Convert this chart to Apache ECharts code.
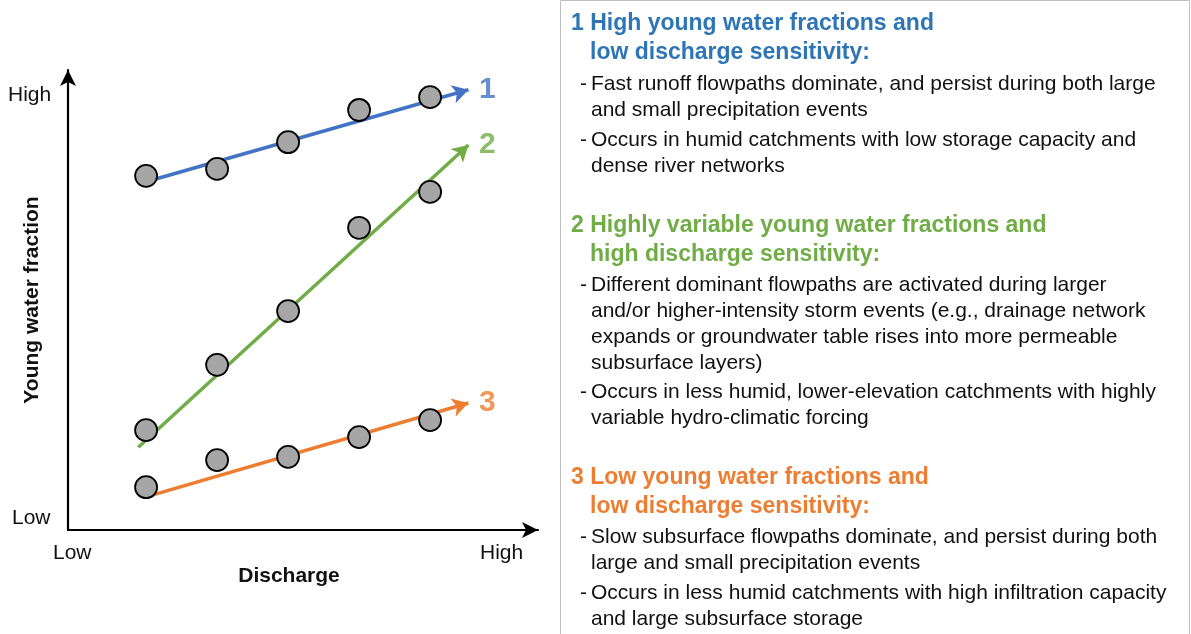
<!DOCTYPE html>
<html><head><meta charset="utf-8">
<script src="https://cdn.jsdelivr.net/npm/echarts@6/dist/echarts.min.js"></script>
<style>html,body{margin:0;background:#fff}#c{width:1191px;height:634px}</style>
</head><body><div id="c"></div>
<script>
const xs = [1, 2, 3, 4, 5];
const blue = [7.70, 7.85, 8.43, 9.13, 9.41];
const green = [2.17, 3.59, 4.76, 6.57, 7.35];
const orange = [0.93, 1.52, 1.59, 2.02, 2.39];
const trendLines = [
  { name: "1", color: "#4472c4", from: [1, 7.57], to: [5.54, 9.57] },
  { name: "2", color: "#70ad47", from: [0.89, 1.80], to: [5.54, 8.37] },
  { name: "3", color: "#ed7d31", from: [1, 0.72], to: [5.54, 2.76] },
];
const sections = [
  { color: "#2e75b6", title: ["1 High young water fractions and", "low discharge sensitivity:"], y: 24,
    bullets: [[84, "Fast runoff flowpaths dominate, and persist during both large", "and small precipitation events"],
              [140, "Occurs in humid catchments with low storage capacity and", "dense river networks"]] },
  { color: "#70ad47", title: ["2 Highly variable young water fractions and", "high discharge sensitivity:"], y: 226,
    bullets: [[285, "Different dominant flowpaths are activated during larger", "and/or higher-intensity storm events (e.g., drainage network", "expands or groundwater table rises into more permeable", "subsurface layers)"],
              [392, "Occurs in less humid, lower-elevation catchments with highly", "variable hydro-climatic forcing"]] },
  { color: "#ed7d31", title: ["3 Low young water fractions and", "low discharge sensitivity:"], y: 478,
    bullets: [[537, "Slow subsurface flowpaths dominate, and persist during both", "large and small precipitation events"],
              [593, "Occurs in less humid catchments with high infiltration capacity", "and large subsurface storage"]] },
];

const font = "Liberation Sans";
const graphic = [
  { type: "rect", shape: { x: 560.5, y: 0.5, width: 629, height: 640 }, style: { fill: "none", stroke: "#bfbfbf", lineWidth: 1 } },
  { type: "text", x: 8, y: 95, style: { text: "High", font: `21px ${font}`, fill: "#111", verticalAlign: "middle" } },
  { type: "text", x: 12, y: 518, style: { text: "Low", font: `21px ${font}`, fill: "#111", verticalAlign: "middle" } },
  { type: "text", x: 53, y: 553, style: { text: "Low", font: `21px ${font}`, fill: "#111", verticalAlign: "middle" } },
  { type: "text", x: 480, y: 553, style: { text: "High", font: `21px ${font}`, fill: "#111", verticalAlign: "middle" } },
  { type: "text", x: 289, y: 576, style: { text: "Discharge", font: `bold 21px ${font}`, fill: "#111", align: "center", verticalAlign: "middle" } },
  { type: "text", x: 32, y: 300, rotation: Math.PI / 2, style: { text: "Young water fraction", font: `bold 21px ${font}`, fill: "#111", align: "center", verticalAlign: "middle" } },
];
sections.forEach((s) => {
  graphic.push({ type: "text", x: 571, y: s.y, style: { text: s.title[0], font: `bold 23px ${font}`, fill: s.color, verticalAlign: "middle" } });
  graphic.push({ type: "text", x: 590, y: s.y + 29, style: { text: s.title[1], font: `bold 23px ${font}`, fill: s.color, verticalAlign: "middle" } });
  s.bullets.forEach(([y0, ...lines]) => {
    graphic.push({ type: "text", x: 580, y: y0, style: { text: "-", font: `21px ${font}`, fill: "#111", verticalAlign: "middle" } });
    lines.forEach((t, i) => graphic.push({ type: "text", x: 591, y: y0 + i * 26, style: { text: t, font: `21px ${font}`, fill: "#111", verticalAlign: "middle" } }));
  });
});

const pts = (ys) => ({
  type: "scatter", data: xs.map((x, i) => [x, ys[i]]), symbolSize: 22, z: 5,
  itemStyle: { color: "#a6a6a6", borderColor: "#000", borderWidth: 1.8, opacity: 1 },
});

const axisLine = { onZero: false, lineStyle: { color: "#000", width: 2.2 }, symbol: ["none", "arrow"], symbolSize: [12, 16] };
const chart = echarts.init(document.getElementById("c"));
chart.setOption({
  animation: false,
  grid: { left: 68, top: 70, width: 470, height: 460 },
  xAxis: { type: "value", min: -0.1, max: 6.52, axisLine, axisTick: { show: false }, axisLabel: { show: false }, splitLine: { show: false } },
  yAxis: { type: "value", min: 0, max: 10, axisLine, axisTick: { show: false }, axisLabel: { show: false }, splitLine: { show: false } },
  graphic,
  series: [
    ...trendLines.map((l) => ({
      type: "line", data: [], silent: true,
      markLine: { symbol: ["none", "arrow"], symbolSize: [14, 16], animation: false,
        lineStyle: { color: l.color, width: 3.5, type: "solid" }, label: { show: false },
        data: [[{ coord: l.from }, { coord: l.to }]] },
    })),
    {
      type: "scatter", symbolSize: 1, silent: true, itemStyle: { color: "rgba(0,0,0,0)" },
      data: trendLines.map((l) => ({ value: l.to, label: { color: l.color } })),
      label: { show: true, position: "right", distance: 10, formatter: (p) => trendLines[p.dataIndex].name, fontSize: 30, fontWeight: "bold", fontFamily: font },
    },
    pts(blue), pts(green), pts(orange),
  ],
});
</script></body></html>
